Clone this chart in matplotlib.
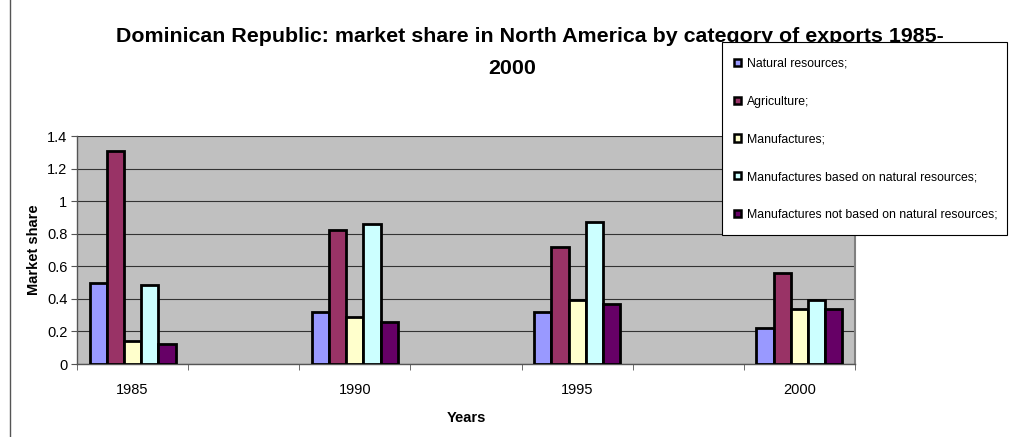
import numpy as np
import matplotlib
matplotlib.use("Agg")
import matplotlib.pyplot as plt
from matplotlib.lines import Line2D
from matplotlib.patches import Rectangle
from matplotlib.ticker import FuncFormatter

plt.rcParams['font.family'] = ['Liberation Sans', 'DejaVu Sans']

years = ['1985', '1990', '1995', '2000']
series = ['Natural resources;', 'Agriculture;', 'Manufactures;',
          'Manufactures based on natural resources;',
          'Manufactures not based on natural resources;']
natural = [0.50, 0.32, 0.32, 0.22]
agriculture = [1.31, 0.82, 0.72, 0.56]
manufactures = [0.14, 0.29, 0.39, 0.34]
manuf_nr = [0.485, 0.86, 0.87, 0.39]
manuf_not_nr = [0.12, 0.26, 0.37, 0.34]
values = [natural, agriculture, manufactures, manuf_nr, manuf_not_nr]
colors = ['#9999FF', '#993366', '#FFFFCC', '#CCFFFF', '#660066']

fig = plt.figure(figsize=(10.15, 4.37), dpi=100)
ax = fig.add_axes([77 / 1015, 73 / 437, 778 / 1015, 228 / 437])
ax.set_facecolor('#C0C0C0')

# the category axis has a blank slot between each year
pos = np.arange(len(years)) * 2
w = 0.155
for i, (vals, c) in enumerate(zip(values, colors)):
    ax.bar(pos + (i - 2) * w, vals, width=w, color=c, edgecolor='black',
           linewidth=2.0, zorder=3)

ax.set_xlim(-0.5, 6.5)
ax.set_ylim(0, 1.4)
ax.set_yticks(np.arange(0, 1.41, 0.2))
ax.yaxis.set_major_formatter(FuncFormatter(lambda v, p: ('%.1f' % v).rstrip('0').rstrip('.')))
ax.grid(axis='y', color='#333333', linewidth=0.8, zorder=1)
ax.set_xticks(pos)
ax.set_xticklabels(years)
ax.set_xticks(np.arange(-0.5, 6.6, 1), minor=True)
ax.tick_params(axis='x', which='major', length=0, pad=14, labelsize=10.5)
ax.tick_params(axis='x', which='minor', length=4, color='#555555', direction='out')
ax.tick_params(axis='y', length=4, color='#555555', labelsize=10.5, pad=3)
for s in ['left', 'bottom']:
    ax.spines[s].set_color('#555555')
    ax.spines[s].set_linewidth(1.0)
ax.spines['right'].set_color('#808080')
ax.spines['right'].set_linewidth(1.5)
ax.spines['top'].set_visible(False)

ax.set_xlabel('Years', fontsize=10.5, fontweight='bold', labelpad=10)
ax.set_ylabel('Market share', fontsize=10.5, fontweight='bold', labelpad=4)

fig.text(0.522, 1 - 37 / 437, 'Dominican Republic: market share in North America by category of exports 1985-',
         ha='center', va='center', fontsize=15.4, fontweight='bold')
fig.text(0.505, 1 - 68 / 437, '2000', ha='center', va='center',
         fontsize=15.4, fontweight='bold')

# chart area border on the left
fig.add_artist(Line2D([10 / 1015, 10 / 1015], [0, 1], color='#555555', linewidth=1.0))

# legend box drawn by hand so its size matches the original
fig.add_artist(Rectangle((722 / 1015, 1 - 235 / 437), 285 / 1015, 193 / 437,
                         transform=fig.transFigure, facecolor='white',
                         edgecolor='black', linewidth=0.8, zorder=4))
handles = [plt.Rectangle((0, 0), 1, 1, facecolor=c, edgecolor='black', linewidth=1.8)
           for c in colors]
leg = fig.legend(handles, series, loc='upper left',
                 bbox_to_anchor=(734 / 1015, 1 - 58 / 437), fontsize=8.8,
                 frameon=False, handlelength=0.55, handleheight=0.55,
                 handletextpad=0.5, labelspacing=2.1, borderpad=0,
                 borderaxespad=0)
leg.set_zorder(5)

fig.savefig('out.png', dpi=100, facecolor='white')
